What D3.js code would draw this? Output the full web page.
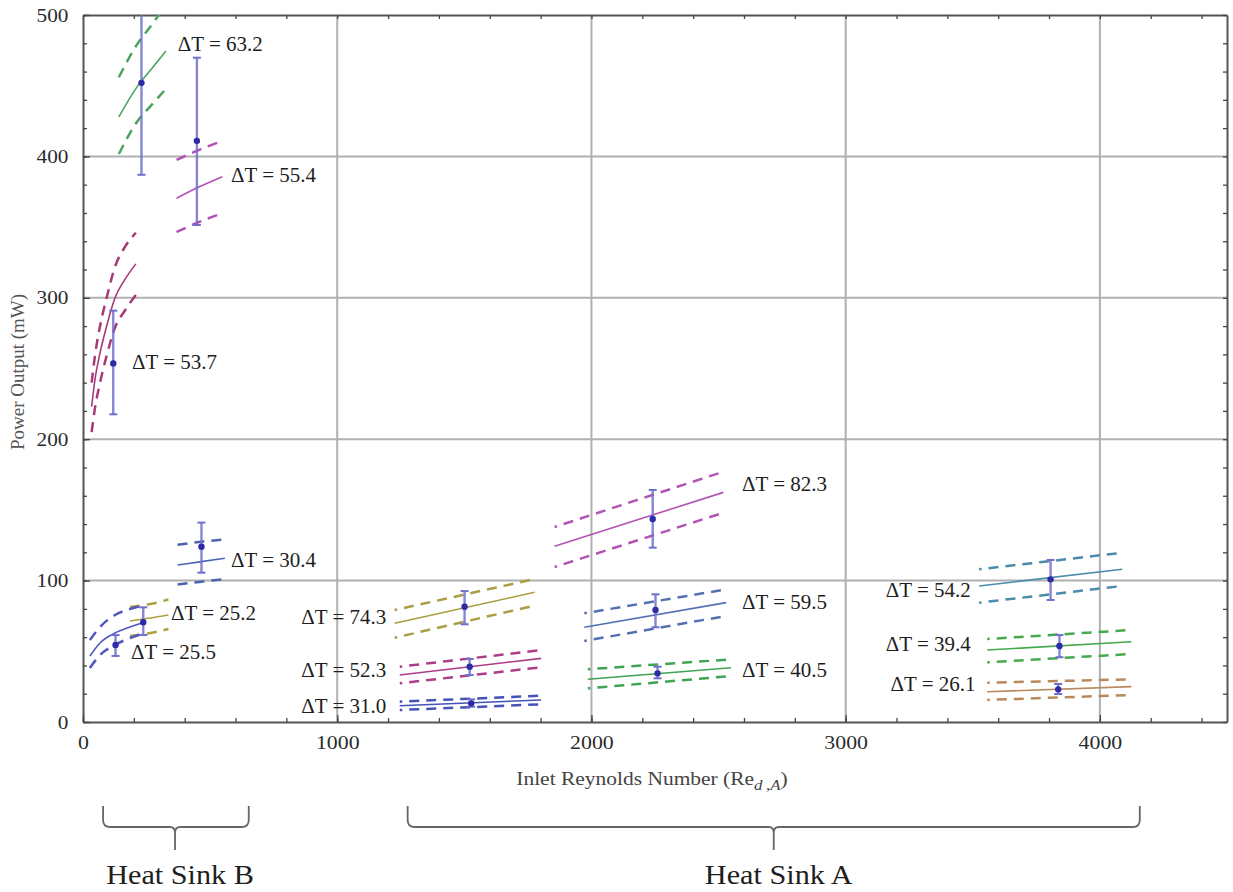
<!DOCTYPE html>
<html><head><meta charset="utf-8">
<script src="https://cdn.jsdelivr.net/npm/d3@7"></script>
<style>
body{margin:0;background:#fff;}
svg{display:block;}
text{font-family:"Liberation Serif","Times New Roman",serif;}
</style></head>
<body><svg id="c" width="1233" height="892"></svg>
<script>
// ---------- data ----------
const labels = ["ΔT = 63.2","ΔT = 55.4","ΔT = 53.7","ΔT = 30.4","ΔT = 25.2","ΔT = 25.5",
  "ΔT = 74.3","ΔT = 52.3","ΔT = 31.0","ΔT = 82.3","ΔT = 59.5","ΔT = 40.5","ΔT = 54.2","ΔT = 39.4","ΔT = 26.1"];
const colors = ["#4ba35c","#b64fb6","#a63a78","#4c63b2","#ada040","#5058bf",
  "#aa9d44","#ad3d86","#4552b8","#b254b4","#5570b2","#40a352","#4a8bab","#46a84f","#b8895c"];
// fit curves: Reynolds numbers, fit, upper and lower bounds (mW)
const fitRe = [
  [141,212,270,326],[368,455,548],[34,47,67,93,126,165,208],[372,465,558],[185,265,336],[27,67,126,185,240],
  [1226,1776],[1246,1802],[1246,1802],[1855,2519],[1972,2530],[1986,2549],[3525,4088],[3557,4124],[3557,4124]];
const fitMid = [
  [428,449,462,474.5],[370.4,378.3,385.7],[223,242,261,280,300,313,324],[111,113.4,115.8],[71.4,73.5,75.7],[46.7,55.9,62.9,67.2,70.5],
  [69.8,91.7],[33.2,45],[11.5,15.6],[124.3,162.4],[67,84.4],[30.2,38.4],[96.2,108],[50.9,56.8],[21.4,25]];
const fitHi = [
  [456,479,493,507],[397.5,404.5,411],[240,259,280,300,322,336,346],[125.4,127.5,129.2],[81.3,83.4,86.6],[58,67.2,75.7,79.9,82.5],
  [79.2,101.1],[39.1,50.9],[14.4,18.6],[137.9,177],[76.9,93.8],[37.3,44.3],[108,119.7],[58.7,65.1],[27.8,30.2]];
const fitLo = [
  [401.7,424.3,436.4,447.7],[346.5,353.5,359.8],[205,222,240,259,279,291,302],[97.2,99.2,101.1],[60.8,62.9,65.8],[38.2,47.4,54.5,59.4,62.7],
  [59.6,82.3],[27.4,38.7],[8.5,12.5],[109.6,148],[57.3,75],[23.8,32.5],[84.4,96.2],[42.2,48.1],[15.6,19.1]];
// measured points with error bars
const pointRe = [230,448,119,466,237,128,1501,1521,1527,2241,2252,2260,3806,3841,3836];
const pointP  = [452,411,253.6,124,70.5,54.5,81.5,39.1,13.2,143.6,79.2,34.4,100.9,53.7,23.1];
const errLo   = [387,351.5,217.6,105.6,61.5,46.7,69.1,33.2,10.8,123.3,67,30.9,86.3,45.8,19.8];
const errHi   = [517,469.8,290.9,141,81.1,61.5,92.6,44.6,16,164.1,90.3,39.1,114.6,61.5,26.9];
// label anchors
const labelRe = [373,582,193,582,346,189,1193,1193,1193,2592,2592,2592,3492,3492,3511];
const labelP  = [480,387,254.6,114.6,77,49.5,74.5,37.3,11.5,168.8,85.1,37.3,93.4,55.7,26.9];
const labelAnchor = ["start","start","start","start","start","start","end","end","end","start","start","start","end","end","end"];
// axes
const xMajor = [0,1000,2000,3000,4000];
const yMajor = [0,100,200,300,400,500];
const xGrid = [1000,2000,3000,4000];
const yGrid = [100,200,300,400];
// heat sink groups (Reynolds ranges of braces)
const groupNames = ["Heat Sink B","Heat Sink A"];
const braceStart = [79,1277];
const braceEnd = [652,4157];
const braceMid = [362,2717];

// ---------- drawing ----------
const svg = d3.select("#c");
const L=83, R=1227, T=15, B=722;
const x = d3.scaleLinear().domain([0,4500]).range([L,R]);
const y = d3.scaleLinear().domain([0,500]).range([B,T]);

svg.append("defs").append("clipPath").attr("id","clip")
  .append("rect").attr("x",L).attr("y",T).attr("width",R-L).attr("height",B-T);

// grid
svg.append("g").selectAll("line").data(xGrid).join("line")
  .attr("x1",d=>x(d)).attr("x2",d=>x(d)).attr("y1",T).attr("y2",B)
  .attr("stroke","#b0b0b0").attr("stroke-width",2);
svg.append("g").selectAll("line").data(yGrid).join("line")
  .attr("y1",d=>y(d)).attr("y2",d=>y(d)).attr("x1",L).attr("x2",R)
  .attr("stroke","#b0b0b0").attr("stroke-width",2);

// axes ticks (inward) on four sides
const xMinor = d3.range(0,4501,200), yMinor = d3.range(0,501,20);
function styleAxis(g){
  g.select(".domain").attr("stroke","#555").attr("stroke-width",2);
  g.selectAll(".tick line").attr("stroke","#444").attr("stroke-width",1.3);
}
svg.append("g").attr("transform",`translate(0,${B})`)
  .call(d3.axisBottom(x).tickValues(xMinor).tickSize(-4).tickSizeOuter(0).tickFormat(""))
  .call(styleAxis);
svg.append("g").attr("transform",`translate(0,${T})`)
  .call(d3.axisTop(x).tickValues(xMinor).tickSize(-4).tickSizeOuter(0).tickFormat(""))
  .call(styleAxis);
svg.append("g").attr("transform",`translate(${L},0)`)
  .call(d3.axisLeft(y).tickValues(yMinor).tickSize(-4).tickSizeOuter(0).tickFormat(""))
  .call(styleAxis);
svg.append("g").attr("transform",`translate(${R},0)`)
  .call(d3.axisRight(y).tickValues(yMinor).tickSize(-4).tickSizeOuter(0).tickFormat(""))
  .call(styleAxis);
// major tick labels
const gxl = svg.append("g").attr("transform",`translate(0,${B})`)
  .call(d3.axisBottom(x).tickValues(xMajor).tickSize(-7).tickSizeOuter(0).tickPadding(14).tickFormat(d3.format("d")));
gxl.select(".domain").remove();
gxl.selectAll(".tick line").attr("stroke","#444").attr("stroke-width",1.3);
gxl.selectAll("text").attr("font-size",19).attr("fill","#2b2b2b")
  .attr("font-family","'Liberation Serif',serif").attr("transform","scale(1.15,1)");
const gyl = svg.append("g").attr("transform",`translate(${L},0)`)
  .call(d3.axisLeft(y).tickValues(yMajor).tickSize(-7).tickSizeOuter(0).tickPadding(13).tickFormat(d3.format("d")));
gyl.select(".domain").remove();
gyl.selectAll(".tick line").attr("stroke","#444").attr("stroke-width",1.3);
gyl.selectAll("text").attr("font-size",19).attr("fill","#2b2b2b")
  .attr("font-family","'Liberation Serif',serif").attr("transform","scale(1.12,1)");

// curves
const plot = svg.append("g").attr("clip-path","url(#clip)");
const line = d3.line().x(d=>x(d[0])).y(d=>y(d[1])).curve(d3.curveMonotoneX);
labels.forEach((lab,i)=>{
  const re = fitRe[i];
  const mid = re.map((r,j)=>[r,fitMid[i][j]]);
  const hi = re.map((r,j)=>[r,fitHi[i][j]]);
  const lo = re.map((r,j)=>[r,fitLo[i][j]]);
  plot.append("path").attr("d",line(mid)).attr("fill","none").attr("stroke",colors[i]).attr("stroke-width",1.6);
  [hi,lo].forEach(c=>plot.append("path").attr("d",line(c)).attr("fill","none")
    .attr("stroke",colors[i]).attr("stroke-width",2.5).attr("stroke-dasharray","10,7")
    .attr("stroke-dashoffset",i>=6 ? 7.5 : 0));
});

// error bars & points
const eb = plot.append("g");
pointRe.forEach((r,i)=>{
  const cx = x(r);
  eb.append("line").attr("x1",cx).attr("x2",cx).attr("y1",y(errLo[i])).attr("y2",y(errHi[i]))
    .attr("stroke","#7070cc").attr("stroke-opacity",0.85).attr("stroke-width",2.4);
  [errLo[i],errHi[i]].forEach(v=>eb.append("line").attr("x1",cx-4).attr("x2",cx+4)
    .attr("y1",y(v)).attr("y2",y(v)).attr("stroke","#7070cc").attr("stroke-width",2));
  eb.append("circle").attr("cx",cx).attr("cy",y(pointP[i])).attr("r",3.2).attr("fill","#2c2ca6");
});

// labels
svg.append("g").selectAll("text").data(labels).join("text")
  .attr("x",(d,i)=>x(labelRe[i])).attr("y",(d,i)=>y(labelP[i])).attr("dy","0.35em")
  .attr("text-anchor",(d,i)=>labelAnchor[i])
  .attr("font-size",21).attr("fill","#1e1e1e").text(d=>d);

// axis titles
svg.append("text").attr("transform",`translate(24,372) rotate(-90)`).attr("text-anchor","middle")
  .attr("font-size",19).attr("fill","#555").text("Power Output (mW)");
const xt = svg.append("text").attr("transform",`translate(652,785) scale(1.13,1)`).attr("text-anchor","middle")
  .attr("font-size",19).attr("fill","#444");
xt.append("tspan").text("Inlet Reynolds Number (Re");
xt.append("tspan").attr("font-style","italic").attr("font-size",15).attr("dy",5).text("d\u2009,A");
xt.append("tspan").attr("dy",-5).text(")");

// braces
const y0=806, y1=827, y2=850, r=7;
groupNames.forEach((g,i)=>{
  const x1=x(braceStart[i]), x2=x(braceEnd[i]), xc=x(braceMid[i]);
  const p = `M${x1},${y0} L${x1},${y1-r} Q${x1},${y1} ${x1+r},${y1} L${xc-5},${y1} Q${xc},${y1} ${xc},${y1+6} L${xc},${y2}`+
            ` M${xc},${y1+6} Q${xc},${y1} ${xc+5},${y1} L${x2-r},${y1} Q${x2},${y1} ${x2},${y1-r} L${x2},${y0}`;
  svg.append("path").attr("d",p).attr("fill","none").attr("stroke","#666").attr("stroke-width",1.8);
  svg.append("text").attr("transform",`translate(${xc+5},884) scale(1.12,1)`).attr("text-anchor","middle")
    .attr("font-size",27).attr("fill","#1e1e1e").text(g);
});
</script></body></html>
